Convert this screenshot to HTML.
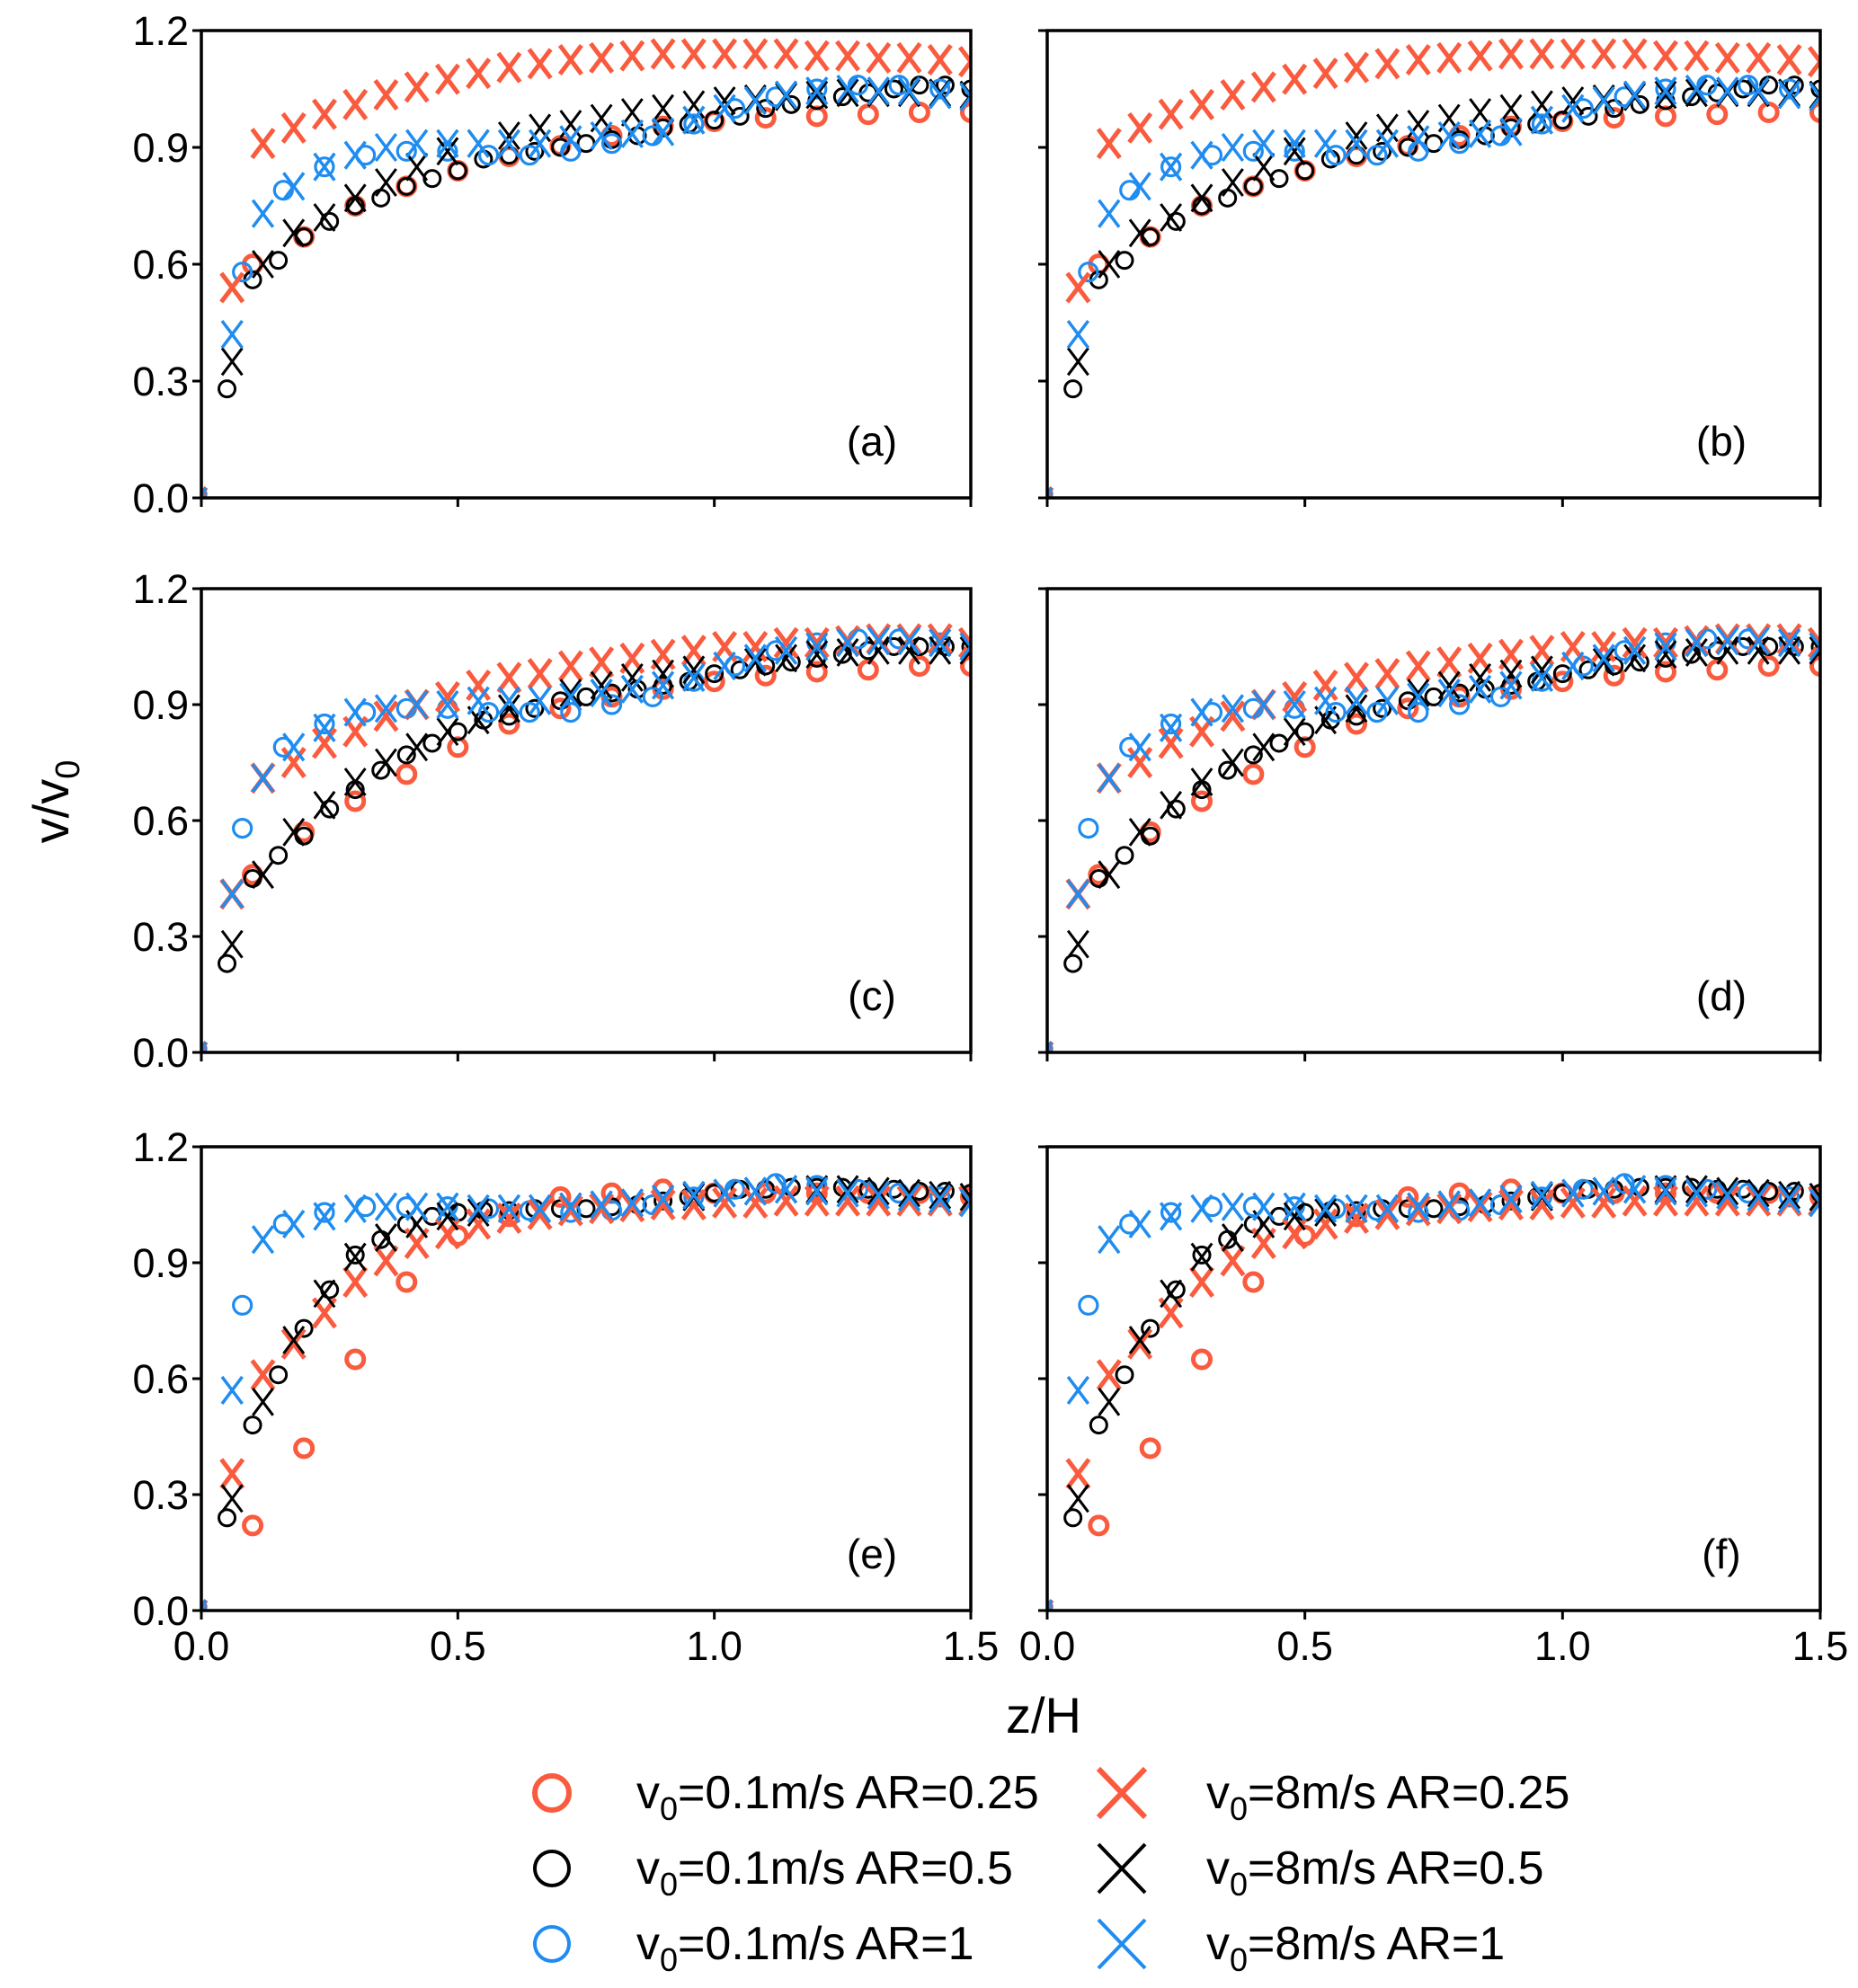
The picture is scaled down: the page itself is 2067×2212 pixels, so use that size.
<!DOCTYPE html>
<html><head><meta charset="utf-8">
<style>
html,body{margin:0;padding:0;background:#fff;}
svg{display:block;font-family:"Liberation Sans",Arial,sans-serif;}
</style></head>
<body>
<svg id="fig" width="2067" height="2212" viewBox="0 0 2067 2212" xmlns="http://www.w3.org/2000/svg"></svg>
<script>
// ---- data ----
const xTicks = [0.0, 0.5, 1.0, 1.5];
const xTickLabels = ["0.0", "0.5", "1.0", "1.5"];
const yTicks = [0.0, 0.3, 0.6, 0.9, 1.2];
const yTickLabels = ["0.0", "0.3", "0.6", "0.9", "1.2"];
const panelLabels = ["(a)", "(b)", "(c)", "(d)", "(e)", "(f)"];
const seriesNames = ["v0=0.1m/s AR=0.25","v0=0.1m/s AR=0.5","v0=0.1m/s AR=1","v0=8m/s AR=0.25","v0=8m/s AR=0.5","v0=8m/s AR=1"];
const zRedCircle = [0,0.1,0.2,0.3,0.4,0.5,0.6,0.7,0.8,0.9,1.0,1.1,1.2,1.3,1.4,1.5];
const zBlackCircle = [0,0.05,0.1,0.15,0.2,0.25,0.3,0.35,0.4,0.45,0.5,0.55,0.6,0.65,0.7,0.75,0.8,0.85,0.9,0.95,1.0,1.05,1.1,1.15,1.2,1.25,1.3,1.35,1.4,1.45,1.5];
const zBlueCircle = [0,0.08,0.16,0.24,0.32,0.4,0.48,0.56,0.64,0.72,0.8,0.88,0.96,1.04,1.12,1.2,1.28,1.36,1.44];
const zCross = [0,0.06,0.12,0.18,0.24,0.3,0.36,0.42,0.48,0.54,0.6,0.66,0.72,0.78,0.84,0.9,0.96,1.02,1.08,1.14,1.2,1.26,1.32,1.38,1.44,1.5];

const r1RedCircle = [0.01,0.6,0.67,0.75,0.80,0.84,0.877,0.904,0.93,0.954,0.967,0.976,0.98,0.985,0.99,0.99];
const r1BlackCircle = [0.01,0.28,0.56,0.61,0.67,0.71,0.75,0.77,0.80,0.82,0.84,0.87,0.88,0.89,0.90,0.91,0.92,0.93,0.95,0.96,0.97,0.98,1.0,1.01,1.02,1.03,1.04,1.05,1.06,1.06,1.05];
const r1BlueCircle = [0.01,0.58,0.79,0.85,0.88,0.89,0.89,0.88,0.88,0.89,0.91,0.93,0.96,1.0,1.03,1.05,1.06,1.06,1.05];
const r1RedCross = [0.01,0.54,0.91,0.95,0.985,1.01,1.035,1.055,1.075,1.09,1.105,1.115,1.125,1.13,1.135,1.14,1.14,1.14,1.14,1.14,1.135,1.135,1.13,1.13,1.125,1.12];
const r1BlackCross = [0.01,0.35,0.6,0.68,0.72,0.77,0.81,0.85,0.89,0.91,0.93,0.95,0.96,0.975,0.99,1.0,1.01,1.02,1.025,1.03,1.035,1.04,1.04,1.04,1.04,1.035];
const r1BlueCross = [0.01,0.42,0.73,0.80,0.85,0.88,0.90,0.91,0.91,0.91,0.91,0.91,0.92,0.93,0.935,0.94,0.97,1.0,1.02,1.035,1.045,1.05,1.045,1.045,1.035,1.03];

const r2RedCircle = [0.01,0.46,0.57,0.65,0.72,0.79,0.85,0.89,0.92,0.94,0.96,0.975,0.985,0.99,1.0,1.0];
const r2BlackCircle = [0.01,0.23,0.45,0.51,0.56,0.63,0.68,0.73,0.77,0.80,0.83,0.86,0.87,0.89,0.91,0.92,0.93,0.94,0.95,0.96,0.98,0.99,1.0,1.01,1.02,1.03,1.04,1.05,1.05,1.05,1.05];
const r2BlueCircle = [0.01,0.58,0.79,0.85,0.88,0.89,0.89,0.88,0.88,0.88,0.90,0.92,0.96,1.0,1.04,1.06,1.07,1.07,1.06];
const r2RedCross = [0.01,0.41,0.71,0.75,0.80,0.83,0.87,0.90,0.92,0.95,0.97,0.98,1.0,1.01,1.02,1.03,1.04,1.05,1.05,1.06,1.06,1.065,1.07,1.07,1.07,1.06];
const r2BlackCross = [0.01,0.28,0.46,0.57,0.64,0.70,0.75,0.79,0.83,0.86,0.89,0.91,0.93,0.95,0.97,0.98,0.99,1.0,1.01,1.02,1.03,1.035,1.04,1.04,1.04,1.04];
const r2BlueCross = [0.01,0.41,0.71,0.79,0.84,0.88,0.89,0.90,0.90,0.91,0.91,0.91,0.92,0.93,0.94,0.95,0.97,1.0,1.02,1.04,1.05,1.06,1.065,1.065,1.06,1.05];

const r3RedCircle = [0.01,0.22,0.42,0.65,0.85,0.97,1.02,1.07,1.08,1.09,1.08,1.08,1.08,1.08,1.08,1.07];
const r3BlackCircle = [0.01,0.24,0.48,0.61,0.73,0.83,0.92,0.96,1.0,1.02,1.03,1.035,1.035,1.04,1.04,1.04,1.045,1.05,1.06,1.07,1.08,1.09,1.09,1.095,1.095,1.095,1.09,1.09,1.085,1.085,1.08];
const r3BlueCircle = [0.01,0.79,1.0,1.03,1.045,1.045,1.045,1.04,1.035,1.03,1.035,1.05,1.07,1.09,1.105,1.1,1.09,1.08,1.07];
const r3RedCross = [0.01,0.354,0.61,0.69,0.77,0.85,0.905,0.95,0.975,1.0,1.015,1.025,1.035,1.04,1.045,1.05,1.05,1.055,1.055,1.06,1.06,1.06,1.06,1.06,1.06,1.06];
const r3BlackCross = [0.01,0.29,0.54,0.70,0.82,0.915,0.965,1.0,1.02,1.03,1.04,1.04,1.045,1.05,1.055,1.065,1.07,1.08,1.085,1.09,1.09,1.09,1.085,1.08,1.075,1.07];
const r3BlueCross = [0.01,0.57,0.96,1.0,1.02,1.04,1.045,1.045,1.045,1.04,1.04,1.04,1.045,1.05,1.055,1.065,1.075,1.08,1.085,1.09,1.085,1.08,1.075,1.07,1.065,1.055];

const rowData = [
  [r1RedCircle,r1BlackCircle,r1BlueCircle,r1RedCross,r1BlackCross,r1BlueCross],
  [r2RedCircle,r2BlackCircle,r2BlueCircle,r2RedCross,r2BlackCross,r2BlueCross],
  [r3RedCircle,r3BlackCircle,r3BlueCircle,r3RedCross,r3BlackCross,r3BlueCross]
];
const seriesX = [zRedCircle,zBlackCircle,zBlueCircle,zCross,zCross,zCross];

const RED="#fa5b3e", BLK="#000000", BLU="#1e8cf0";
const styles = [
  {type:"o",c:RED,r:9.5,w:5,sn:"red-circle"},
  {type:"o",c:BLK,r:9,w:3,sn:"black-circle"},
  {type:"o",c:BLU,r:10,w:3.2,sn:"blue-circle"},
  {type:"x",c:RED,r:16,w:5,sn:"red-cross"},
  {type:"x",c:BLK,r:15,w:3,sn:"black-cross"},
  {type:"x",c:BLU,r:15,w:3.5,sn:"blue-cross"}
];
const cols=[[224,1080],[1165,2025]];
const rows=[[34,554],[655,1171],[1276,1792]];
const NS="http://www.w3.org/2000/svg";
const svg=document.getElementById("fig");
function el(tag,attrs,parent){const e=document.createElementNS(NS,tag);for(const k in attrs)e.setAttribute(k,attrs[k]);(parent||svg).appendChild(e);return e;}

const defs=el("defs",{});
for(let ri=0;ri<3;ri++){
  for(let ci=0;ci<2;ci++){
    const [x0,x1]=cols[ci],[y0,y1]=rows[ri];
    const sx=v=>x0+(v-0)/1.5*(x1-x0);
    const sy=v=>y1-(v/1.2)*(y1-y0);
    const idx=ri*2+ci;
    const cp=el("clipPath",{id:"cp"+idx},defs);
    el("rect",{x:x0,y:y0,width:x1-x0,height:y1-y0},cp);
    const g=el("g",{"clip-path":"url(#cp"+idx+")"});
    
    
    rowData[ri].forEach((vals,si)=>{
      const st=styles[si];
      const sg=el("g",{},g);
      
      
      vals.forEach((v,k)=>{
        const cx=sx(seriesX[si][k]),cy=sy(v);
        const rr=(k===0)?st.r*0.45:st.r;
        let m;
        if(st.type==="o"){
          m=el("circle",{cx:cx,cy:cy,r:rr,fill:"none",stroke:st.c,"stroke-width":st.w},sg);
        }else{
          m=el("path",{d:`M${cx-rr*0.75},${cy-rr}L${cx+rr*0.75},${cy+rr}M${cx-rr*0.75},${cy+rr}L${cx+rr*0.75},${cy-rr}`,fill:"none",stroke:st.c,"stroke-width":st.w},sg);
        }
        
        
      });
    });
    const fr=el("rect",{x:x0,y:y0,width:x1-x0,height:y1-y0,fill:"none",stroke:"#000","stroke-width":3.5});
    
    
    yTicks.forEach((t,k)=>{
      const y=sy(t);
      const tk=el("line",{x1:x0-10,x2:x0,y1:y,y2:y,stroke:"#000","stroke-width":3});
      
      
      if(ci===0){
        const tx=el("text",{x:x0-14,y:y+16,"text-anchor":"end","font-size":45,fill:"#000"});
        tx.textContent=yTickLabels[k];
        
        
      }
    });
    xTicks.forEach((t,k)=>{
      const x=sx(t);
      const tk=el("line",{x1:x,x2:x,y1:y1,y2:y1+10,stroke:"#000","stroke-width":3});
      
      
      if(ri===2){
        const tx=el("text",{x:x,y:y1+55,"text-anchor":"middle","font-size":45,fill:"#000"});
        tx.textContent=xTickLabels[k];
        
        
      }
    });
    const pl=el("text",{x:x1-110,y:y1-47,"text-anchor":"middle","font-size":46,fill:"#000"});
    pl.textContent=panelLabels[idx];
    
    
  }
}
const xt=el("text",{x:1161,y:1928,"text-anchor":"middle","font-size":56,fill:"#000"});
xt.textContent="z/H";


const yt=el("text",{transform:"translate(76,892) rotate(-90)","text-anchor":"middle","font-size":56,fill:"#000"});
yt.innerHTML='v/v<tspan font-size="38" dy="12">0</tspan>';



const legX=[[614,708],[1248,1342]];
const legY=[1995,2079,2163];
for(let i=0;i<6;i++){
  const col=i<3?0:1, row=i%3, st=styles[i];
  const cx=legX[col][0], cy=legY[row];
  const lg=el("g",{});
  
  
  if(st.type==="o"){
    el("circle",{cx:cx,cy:cy,r:19,fill:"none",stroke:st.c,"stroke-width":i===0?6:4},lg);
  }else{
    el("path",{d:`M${cx-26},${cy-27}L${cx+26},${cy+27}M${cx-26},${cy+27}L${cx+26},${cy-27}`,fill:"none",stroke:st.c,"stroke-width":i===3?6:4},lg);
  }
  const parts=seriesNames[i].split("v0");
  const t=el("text",{x:legX[col][1],y:cy+17,"font-size":52,fill:"#000"},lg);
  t.innerHTML='v<tspan font-size="36" dy="13">0</tspan><tspan dy="-13">'+parts[1]+'</tspan>';
}
</script>
</body></html>
